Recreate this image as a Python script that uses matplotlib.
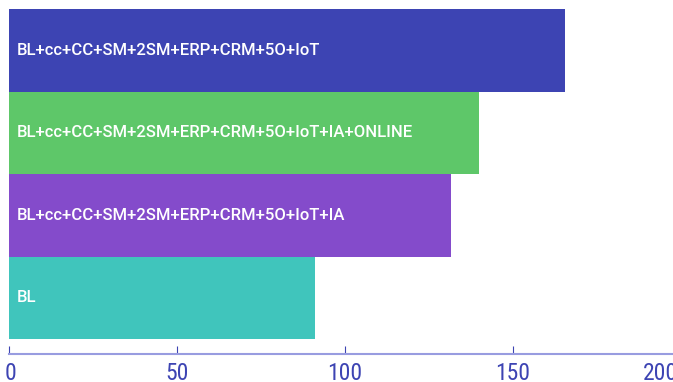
import matplotlib
matplotlib.use("Agg")
import matplotlib.pyplot as plt
from matplotlib import font_manager
from matplotlib.transforms import ScaledTranslation

# Data
categories = [
    "BL",
    "BL+cc+CC+SM+2SM+ERP+CRM+5O+IoT+IA",
    "BL+cc+CC+SM+2SM+ERP+CRM+5O+IoT+IA+ONLINE",
    "BL+cc+CC+SM+2SM+ERP+CRM+5O+IoT",
]
values = [91.3, 131.5, 140, 165.5]
colors = ["#40C5BC", "#844BCB", "#5EC769", "#3D44B3"]
tick_values = [0, 50, 100, 150, 200]
tick_labels = ["0", "50", "100", "150", "200"]

# Narrow face for the axis numbers, if one is installed
installed = {f.name for f in font_manager.fontManager.ttflist}
narrow = None
for cand in ["Liberation Sans Narrow", "DejaVu Sans Condensed", "Roboto Condensed"]:
    if cand in installed:
        narrow = cand
        break

W, H = 673, 382
fig = plt.figure(figsize=(W / 100, H / 100), dpi=100)
x0_px, x200_px = 8.5, 681.0
top_px, axis_px = 9.0, 353.5
ax = fig.add_axes([x0_px / W, (H - axis_px) / H,
                   (x200_px - x0_px) / W, (axis_px - top_px) / H])

ypos = list(range(len(categories)))
ax.barh(ypos, values, height=1.0, color=colors, edgecolor="none")
ax.set_xlim(0, 200)
ax.set_ylim(-0.5 - 14.5 / 82.5, len(categories) - 0.5)

for y, label in zip(ypos, categories):
    ax.text(8.5 / 3.364, y, label, color="white", fontsize=12.0,
            family="Roboto", fontweight="medium", va="center", ha="left")

for side in ["top", "right", "left"]:
    ax.spines[side].set_visible(False)
ax.spines["bottom"].set_color("#989CE0")
ax.spines["bottom"].set_linewidth(1.5)
ax.set_yticks([])

ax.set_xticks(tick_values)
ax.set_xticklabels(tick_labels)
ax.tick_params(axis="x", direction="in", length=5.8, width=0.8,
               color="#3D44B3", labelcolor="#3D44B3", pad=6)
for lab in ax.get_xticklabels():
    if narrow:
        lab.set_family(narrow)
    else:
        lab.set_fontstretch("condensed")
    lab.set_fontsize(17)
labs = ax.get_xticklabels()
labs[0].set_transform(labs[0].get_transform() +
                      ScaledTranslation(2.5 / 100, 0, fig.dpi_scale_trans))
labs[-1].set_horizontalalignment("right")
labs[-1].set_transform(labs[-1].get_transform() +
                       ScaledTranslation(-3 / 100, 0, fig.dpi_scale_trans))

fig.savefig("out.png", dpi=100)
